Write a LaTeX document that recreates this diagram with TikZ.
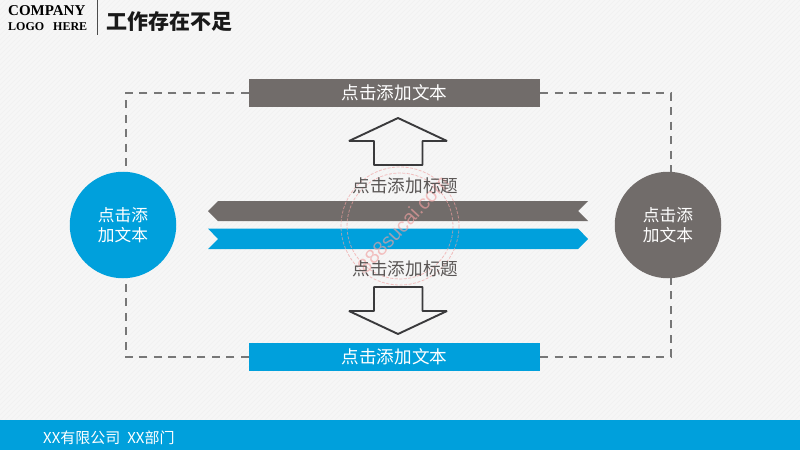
\documentclass[tikz,border=0pt]{standalone}
\usepackage{fontspec}
\setmainfont{Liberation Sans}
\newfontfamily\cjk{Noto Sans CJK SC}
\newfontfamily\logofont{Liberation Serif}
\definecolor{bluec}{HTML}{00A0DC}
\definecolor{grayc}{HTML}{716C6A}
\definecolor{dashc}{HTML}{777777}
\definecolor{txtc}{HTML}{5A5655}
\definecolor{arrowc}{HTML}{3A3A3C}
\definecolor{stampc}{HTML}{F0A0A0}
\tikzset{
  barbox/.style={minimum width=291pt,minimum height=27.5pt,inner sep=0pt,text=white,font=\cjk\fontsize{17.6}{20}\selectfont},
  roundc/.style={circle,minimum size=106.5pt,inner sep=0pt,text=white,align=center,font=\cjk\fontsize{16.7}{20}\selectfont},
  midlabel/.style={text=txtc,inner sep=0pt,font=\cjk\fontsize{17.6}{20}\selectfont},
  linkline/.style={dashc,line width=1.7pt,dash pattern=on 8pt off 6.5pt},
  hollow/.style={arrowc,line width=1.9pt,line join=bevel},
  stampline/.style={stampc,opacity=0.65,line width=0.8pt,dash pattern=on 3pt off 1.5pt}
}
\begin{document}
\begin{tikzpicture}[x=1pt,y=-1pt]
\useasboundingbox (0,0) rectangle (800,450);
\fill[white!96.5!black] (0,0) rectangle (800,450);
\begin{scope}
\clip (0,0) rectangle (800,420);
\foreach \k in {0,5,...,1250} {\draw[white!94!black,line width=0.6pt] (\k,0) -- (\k-450,450);}
\end{scope}
\fill[bluec] (0,420) rectangle (800,450);
% header
\node[anchor=west,inner sep=0pt,font=\logofont\bfseries\fontsize{15}{15}\selectfont,text=black] (logoa) at (8,11) {COMPANY};
\node[anchor=west,inner sep=0pt,font=\logofont\bfseries\fontsize{12}{12}\selectfont,text=black] (logob) at (8,27) {LOGO\hspace{9pt}HERE};
\draw[black!70,line width=0.8pt] (97,0) -- (97,35);
\node[anchor=west,inner sep=0pt,font=\cjk\bfseries\fontsize{21}{24}\selectfont,text=black!90] (title) at (106,21.5) {工作存在不足};
% nodes
\node[barbox,fill=grayc] (topbar) at (394.5,93) {点击添加文本};
\node[barbox,fill=bluec] (botbar) at (394.5,357) {点击添加文本};
\node[roundc,fill=bluec] (leftc) at (123,225) {点击添\\加文本};
\node[roundc,fill=grayc] (rightc) at (668,225) {点击添\\加文本};
% connectors
\draw[linkline] (topbar.west) -| ([xshift=2.7pt]leftc.north);
\draw[linkline] (topbar.east) -| ([xshift=3pt]rightc.north);
\draw[linkline] (botbar.west) -| ([xshift=2.7pt]leftc.south);
\draw[linkline] (botbar.east) -| ([xshift=3pt]rightc.south);
% hollow arrows
\draw[hollow] (398,118) -- (447,141) -- (422.5,141) -- (422.5,165) -- (374,165) -- (374,141) -- (349,141) -- cycle;
\draw[hollow] (374,287) -- (422.5,287) -- (422.5,311) -- (447,311) -- (398,334) -- (349,311) -- (374,311) -- cycle;
% ribbons
\fill[grayc] (208,211) -- (218,201) -- (588,201) -- (578,211) -- (588,221) -- (218,221) -- cycle;
\fill[bluec] (208,228.5) -- (578,228.5) -- (588,239) -- (578,249) -- (208,249) -- (218,239) -- cycle;
% stamp
\draw[stampline] (400,226) circle (59);
\draw[stampline] (400,226) circle (53);
\node[rotate=47,text=stampc,opacity=0.65,inner sep=0pt,font=\fontsize{20}{21}\selectfont] (stamp) at (403,224) {888sucai.com};
\node[midlabel] (labtop) at (405.5,185.5) {点击添加标题};
\node[midlabel] (labbot) at (405.5,269) {点击添加标题};
% footer
\node[anchor=west,inner sep=0pt,text=white,font=\cjk\fontsize{15}{16}\selectfont] (foot) at (43,438) {XX有限公司\hspace{7pt}XX部门};
\end{tikzpicture}
\end{document}
